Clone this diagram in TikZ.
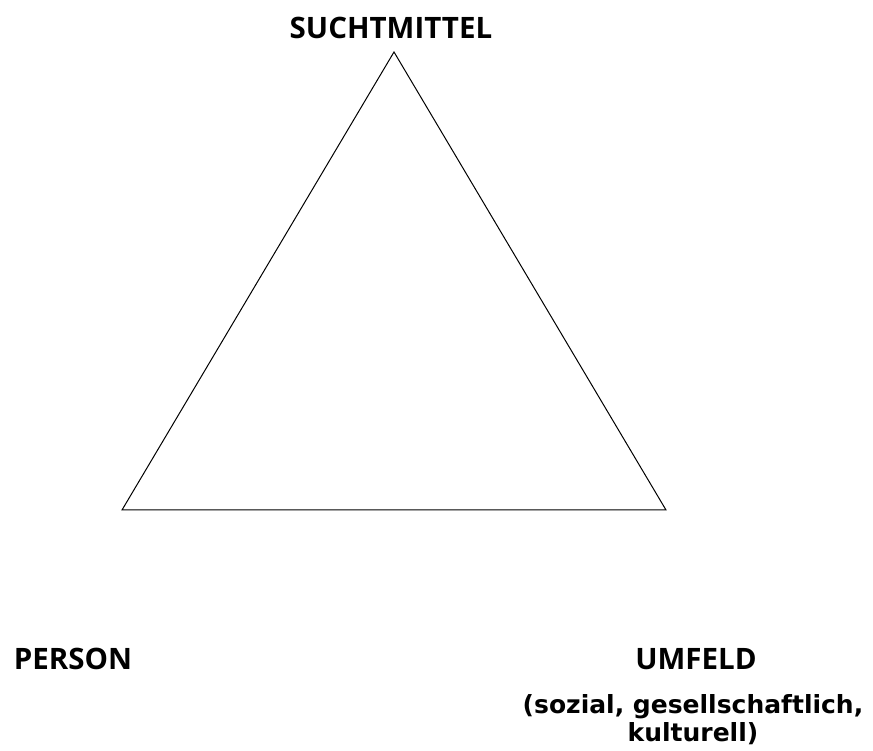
\documentclass[tikz,border=0pt]{standalone}
\usepackage{fontspec}
\setmainfont{Open Sans}
\newfontfamily\verd{DejaVu Sans}
\usepackage{tikz}
\usetikzlibrary{positioning}

\begin{document}
\begin{tikzpicture}[x=1pt,y=1pt,
  corner/.style={font=\fontsize{29.5}{34}\selectfont\bfseries,anchor=base},
  note/.style={font=\verd\fontsize{25}{30}\selectfont\bfseries,align=center,anchor=base}]
\useasboundingbox (0,0) rectangle (873,750);
% triangle corners
\coordinate (top) at (394,698);
\coordinate (left) at (122,240);
\coordinate (right) at (666,240);
\draw[line width=1pt] (top) -- (right) -- (left) -- cycle;
% labels
\node[corner] (mittel) at (391,711) {SUCHTMITTEL};
\node[corner] (person) at (73,81) {PERSON};
\node[corner] (umfeld) at (696,81) {UMFELD};
\node[note] (sozial) at (693,37) {(sozial, gesellschaftlich,};
\node[note] (kultur) at (693,9) {kulturell)};
\end{tikzpicture}
\end{document}
